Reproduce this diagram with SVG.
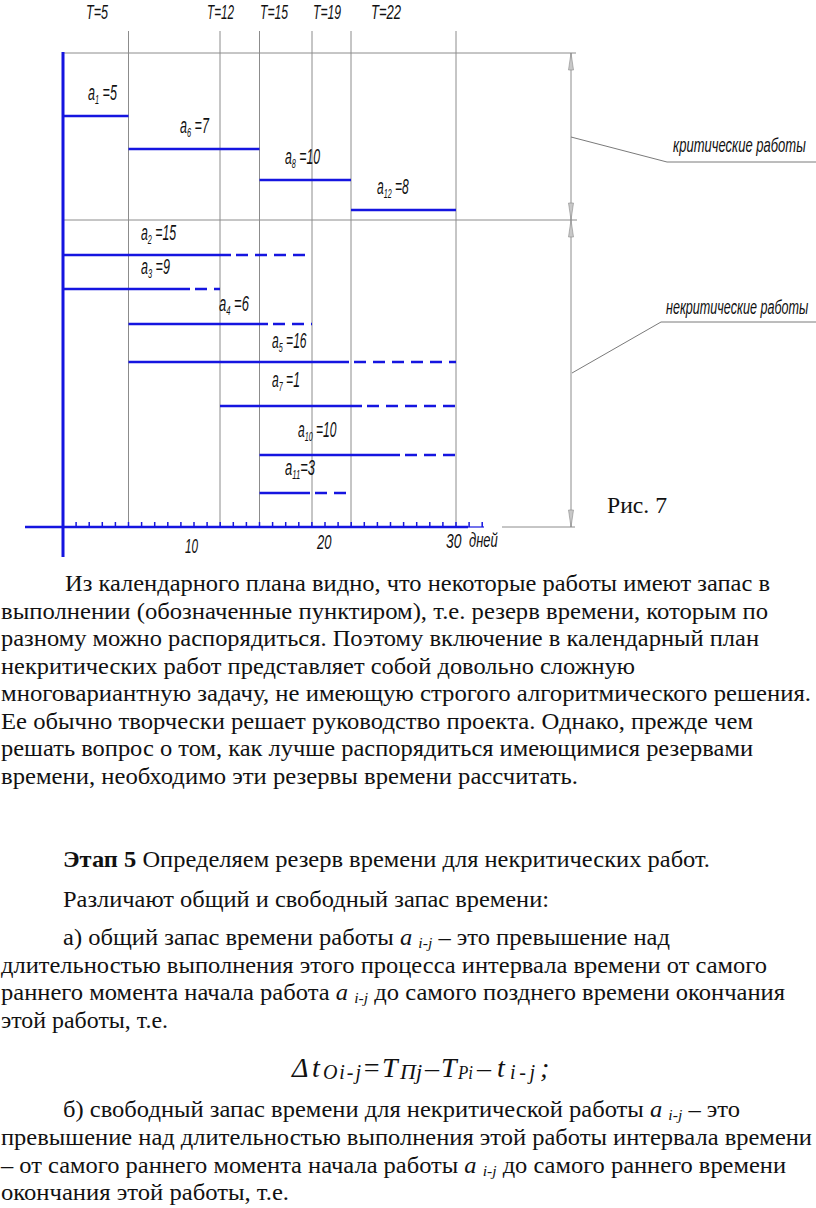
<svg xmlns="http://www.w3.org/2000/svg" width="816" height="1208" viewBox="0 0 816 1208">
<style>
.grid{stroke:#8c8c8c;stroke-width:1;fill:none}
.lead{stroke:#7a7a7a;stroke-width:1;fill:none}
.bar{stroke:#1515e0;stroke-width:2.6;fill:none}
.dash{stroke:#1515e0;stroke-width:2.6;stroke-dasharray:12 7;fill:none}
.tick{stroke:#1515e0;stroke-width:1.5}
.arr{fill:#c8c8c8;stroke:#8a8a8a;stroke-width:0.6}
.lbl{font-family:'Liberation Sans',Arimo,Arial,sans-serif;font-style:italic;font-size:22px;fill:#111}
.hdr{font-family:'Liberation Sans',Arimo,Arial,sans-serif;font-style:italic;font-size:21px;fill:#111}
.body{font-family:'Liberation Serif',Tinos,'Times New Roman',serif;font-size:23.5px;fill:#111}
.it{font-style:italic}
.fm{font-family:'Liberation Serif',Tinos,'Times New Roman',serif;font-style:italic;fill:#111}
</style>
<rect width="816" height="1208" fill="#fff"/>

<g id="grid">
  <line class="grid" x1="128.5" y1="31" x2="128.5" y2="527"/>
  <line class="grid" x1="220" y1="31" x2="220" y2="527"/>
  <line class="grid" x1="259.5" y1="31" x2="259.5" y2="527"/>
  <line class="grid" x1="312" y1="31" x2="312" y2="527"/>
  <line class="grid" x1="351" y1="31" x2="351" y2="527"/>
  <line class="grid" x1="456" y1="31" x2="456" y2="527"/>
  <line class="grid" x1="63" y1="53" x2="576" y2="53"/>
  <line class="grid" x1="63" y1="220" x2="577" y2="220"/>
  <line class="grid" x1="502" y1="527" x2="575" y2="527"/>
</g>

<g id="headers">
  <text class="hdr" transform="translate(86,19) scale(0.6,1)">T=5</text>
  <text class="hdr" transform="translate(207,19) scale(0.56,1)">T=12</text>
  <text class="hdr" transform="translate(260,19) scale(0.58,1)">T=15</text>
  <text class="hdr" transform="translate(313,19) scale(0.58,1)">T=19</text>
  <text class="hdr" transform="translate(371,19) scale(0.62,1)">T=22</text>
</g>

<g id="dimension">
  <line class="grid" x1="571" y1="53" x2="571" y2="527"/>
  <path class="arr" d="M571,53 L568.5,70 L573.5,70 Z"/>
  <path class="arr" d="M571,220 L568.5,203 L573.5,203 Z"/>
  <path class="arr" d="M571,220 L568.5,237 L573.5,237 Z"/>
  <path class="arr" d="M571,527 L568.5,510 L573.5,510 Z"/>
  <polyline class="lead" points="571,137 667,162 816,162"/>
  <polyline class="lead" points="572,373 661,322 816,322"/>
  <text class="hdr" transform="translate(673,152) scale(0.62,1)">критические работы</text>
  <text class="hdr" transform="translate(666,314) scale(0.6,1)">некритические работы</text>
</g>

<g id="axis">
  <line x1="63" y1="52" x2="63" y2="557" stroke="#1515e0" stroke-width="3"/>
  <line x1="25" y1="527" x2="468" y2="527" stroke="#1515e0" stroke-width="2.6"/>
  <line x1="468" y1="527" x2="484" y2="527" stroke="#1515e0" stroke-width="1.2"/>
  <g id="ticks">
    <line class="tick" x1="76.1" y1="522" x2="76.1" y2="527"/>
    <line class="tick" x1="89.2" y1="522" x2="89.2" y2="527"/>
    <line class="tick" x1="102.3" y1="522" x2="102.3" y2="527"/>
    <line class="tick" x1="115.4" y1="522" x2="115.4" y2="527"/>
    <line class="tick" x1="128.5" y1="522" x2="128.5" y2="527"/>
    <line class="tick" x1="141.6" y1="522" x2="141.6" y2="527"/>
    <line class="tick" x1="154.7" y1="522" x2="154.7" y2="527"/>
    <line class="tick" x1="167.8" y1="522" x2="167.8" y2="527"/>
    <line class="tick" x1="180.9" y1="522" x2="180.9" y2="527"/>
    <line class="tick" x1="194" y1="522" x2="194" y2="527"/>
    <line class="tick" x1="207.1" y1="522" x2="207.1" y2="527"/>
    <line class="tick" x1="220.2" y1="522" x2="220.2" y2="527"/>
    <line class="tick" x1="233.3" y1="522" x2="233.3" y2="527"/>
    <line class="tick" x1="246.4" y1="522" x2="246.4" y2="527"/>
    <line class="tick" x1="259.5" y1="522" x2="259.5" y2="527"/>
    <line class="tick" x1="272.6" y1="522" x2="272.6" y2="527"/>
    <line class="tick" x1="285.7" y1="522" x2="285.7" y2="527"/>
    <line class="tick" x1="298.8" y1="522" x2="298.8" y2="527"/>
    <line class="tick" x1="311.9" y1="522" x2="311.9" y2="527"/>
    <line class="tick" x1="325" y1="522" x2="325" y2="527"/>
    <line class="tick" x1="338.1" y1="522" x2="338.1" y2="527"/>
    <line class="tick" x1="351.2" y1="522" x2="351.2" y2="527"/>
    <line class="tick" x1="364.3" y1="522" x2="364.3" y2="527"/>
    <line class="tick" x1="377.4" y1="522" x2="377.4" y2="527"/>
    <line class="tick" x1="390.5" y1="522" x2="390.5" y2="527"/>
    <line class="tick" x1="403.6" y1="522" x2="403.6" y2="527"/>
    <line class="tick" x1="416.7" y1="522" x2="416.7" y2="527"/>
    <line class="tick" x1="429.8" y1="522" x2="429.8" y2="527"/>
    <line class="tick" x1="442.9" y1="522" x2="442.9" y2="527"/>
    <line class="tick" x1="456" y1="522" x2="456" y2="527"/>
    <line class="tick" x1="469.1" y1="522" x2="469.1" y2="527" stroke-width="1"/>
    <line class="tick" x1="482.2" y1="522" x2="482.2" y2="527" stroke-width="1"/>
  </g>
  <text class="hdr" transform="translate(185,553) scale(0.56,1)">10</text>
  <text class="hdr" transform="translate(317,549) scale(0.62,1)">20</text>
  <text class="hdr" transform="translate(446,548) scale(0.66,1)">30</text>
  <text class="hdr" transform="translate(469,547) scale(0.62,1)">дней</text>
</g>

<g id="critical">
  <g id="a1"><line class="bar" x1="63" y1="116" x2="128.5" y2="116"/>
    <text class="lbl" transform="translate(88,100) scale(0.57,1)">a<tspan font-size="13" dy="4">1</tspan><tspan dy="-4"> =5</tspan></text></g>
  <g id="a6"><line class="bar" x1="128.5" y1="149" x2="259.5" y2="149"/>
    <text class="lbl" transform="translate(180,133) scale(0.57,1)">a<tspan font-size="13" dy="4">6</tspan><tspan dy="-4"> =7</tspan></text></g>
  <g id="a8"><line class="bar" x1="259.5" y1="180" x2="351" y2="180"/>
    <text class="lbl" transform="translate(285,164) scale(0.56,1)">a<tspan font-size="13" dy="4">8</tspan><tspan dy="-4"> =10</tspan></text></g>
  <g id="a12"><line class="bar" x1="351" y1="210" x2="456" y2="210"/>
    <text class="lbl" transform="translate(377,194) scale(0.55,1)">a<tspan font-size="13" dy="4">12</tspan><tspan dy="-4"> =8</tspan></text></g>
</g>

<g id="noncritical">
  <g id="a2"><line class="bar" x1="63" y1="255" x2="231" y2="255"/><line class="dash" x1="236" y1="255" x2="312" y2="255"/>
    <text class="lbl" transform="translate(141,240) scale(0.56,1)">a<tspan font-size="13" dy="4">2</tspan><tspan dy="-4"> =15</tspan></text></g>
  <g id="a3"><line class="bar" x1="63" y1="289" x2="190" y2="289"/><line class="dash" x1="195" y1="289" x2="220" y2="289"/>
    <text class="lbl" transform="translate(141,274) scale(0.57,1)">a<tspan font-size="13" dy="4">3</tspan><tspan dy="-4"> =9</tspan></text></g>
  <g id="a4"><line class="bar" x1="128.5" y1="324" x2="268" y2="324"/><line class="dash" x1="273" y1="324" x2="312" y2="324"/>
    <text class="lbl" transform="translate(219,311) scale(0.59,1)">a<tspan font-size="13" dy="4">4</tspan><tspan dy="-4"> =6</tspan></text></g>
  <g id="a5"><line class="bar" x1="128.5" y1="362" x2="349" y2="362"/><line class="dash" x1="354" y1="362" x2="456" y2="362"/>
    <text class="lbl" transform="translate(272,348) scale(0.55,1)">a<tspan font-size="13" dy="4">5</tspan><tspan dy="-4"> =16</tspan></text></g>
  <g id="a7"><line class="bar" x1="220" y1="406" x2="362" y2="406"/><line class="dash" x1="367" y1="406" x2="456" y2="406"/>
    <text class="lbl" transform="translate(272,387) scale(0.55,1)">a<tspan font-size="13" dy="4">7</tspan><tspan dy="-4"> =1</tspan></text></g>
  <g id="a10"><line class="bar" x1="259.5" y1="455" x2="400" y2="455"/><line class="dash" x1="405" y1="455" x2="456" y2="455"/>
    <text class="lbl" transform="translate(298,437) scale(0.55,1)">a<tspan font-size="13" dy="4">10</tspan><tspan dy="-4"> =10</tspan></text></g>
  <g id="a11"><line class="bar" x1="259.5" y1="493" x2="310" y2="493"/><line class="dash" x1="315" y1="493" x2="351" y2="493"/>
    <text class="lbl" transform="translate(285,475) scale(0.59,1)">a<tspan font-size="13" dy="4">11</tspan><tspan dy="-4">=3</tspan></text></g>
</g>

<text id="caption" class="body" x="607" y="513" font-size="24" textLength="60" lengthAdjust="spacingAndGlyphs">Рис. 7</text>

<g id="paragraph1">
  <text class="body" x="65" y="591" textLength="705" lengthAdjust="spacingAndGlyphs">Из календарного плана видно, что некоторые работы имеют запас в</text>
  <text class="body" x="1" y="618.5" textLength="767" lengthAdjust="spacingAndGlyphs">выполнении (обозначенные пунктиром), т.е. резерв времени, которым по</text>
  <text class="body" x="1" y="646" textLength="758" lengthAdjust="spacingAndGlyphs">разному можно распорядиться. Поэтому включение в календарный план</text>
  <text class="body" x="1" y="673.5" textLength="634" lengthAdjust="spacingAndGlyphs">некритических работ представляет собой довольно сложную</text>
  <text class="body" x="1" y="701" textLength="810" lengthAdjust="spacingAndGlyphs">многовариантную задачу, не имеющую строгого алгоритмического решения.</text>
  <text class="body" x="1" y="728.5" textLength="752" lengthAdjust="spacingAndGlyphs">Ее обычно творчески решает руководство проекта. Однако, прежде чем</text>
  <text class="body" x="1" y="756" textLength="752" lengthAdjust="spacingAndGlyphs">решать вопрос о том, как лучше распорядиться имеющимися резервами</text>
  <text class="body" x="1" y="783.5" textLength="577" lengthAdjust="spacingAndGlyphs">времени, необходимо эти резервы времени рассчитать.</text>
</g>

<g id="paragraph2">
  <text class="body" x="63" y="867" textLength="647" lengthAdjust="spacingAndGlyphs"><tspan font-weight="bold">Этап 5</tspan> Определяем резерв времени для некритических работ.</text>
  <text class="body" x="63" y="906.5" textLength="486" lengthAdjust="spacingAndGlyphs">Различают общий и свободный запас времени:</text>
  <text class="body" x="63" y="945" textLength="607" lengthAdjust="spacingAndGlyphs">а) общий запас времени работы <tspan class="it">a</tspan> <tspan class="it" font-size="15" dy="3">i-j</tspan><tspan dy="-3"> – это превышение над</tspan></text>
  <text class="body" x="1" y="972.5" textLength="766" lengthAdjust="spacingAndGlyphs">длительностью выполнения этого процесса интервала времени от самого</text>
  <text class="body" x="1" y="1000" textLength="784" lengthAdjust="spacingAndGlyphs">раннего момента начала работа <tspan class="it">a</tspan> <tspan class="it" font-size="15" dy="3">i-j</tspan><tspan dy="-3"> до самого позднего времени окончания</tspan></text>
  <text class="body" x="1" y="1027.5" textLength="167" lengthAdjust="spacingAndGlyphs">этой работы, т.е.</text>
</g>

<g id="formula">
  <text class="fm" x="292" y="1077" font-size="28">Δ</text>
  <text class="fm" x="312" y="1077" font-size="28">t</text>
  <text class="fm" x="323" y="1079" font-size="20" textLength="38" lengthAdjust="spacing">Oi-j</text>
  <text class="fm" x="362" y="1077" font-size="28">=</text>
  <text class="fm" x="382" y="1077" font-size="28">T</text>
  <text class="fm" x="400" y="1079" font-size="20" textLength="22" lengthAdjust="spacingAndGlyphs">Пj</text>
  <text class="fm" x="425" y="1077" font-size="28">–</text>
  <text class="fm" x="441" y="1077" font-size="28">T</text>
  <text class="fm" x="458" y="1079" font-size="18" textLength="15" lengthAdjust="spacingAndGlyphs">Pi</text>
  <text class="fm" x="477" y="1077" font-size="28">–</text>
  <text class="fm" x="497" y="1077" font-size="28">t</text>
  <text class="fm" x="510" y="1079" font-size="20" textLength="25" lengthAdjust="spacing">i-j</text>
  <text class="fm" x="540" y="1077" font-size="28">;</text>
</g>

<g id="paragraph3">
  <text class="body" x="63" y="1117" textLength="677" lengthAdjust="spacingAndGlyphs">б) свободный запас времени для некритической работы <tspan class="it">a</tspan> <tspan class="it" font-size="15" dy="3">i-j</tspan><tspan dy="-3"> – это</tspan></text>
  <text class="body" x="1" y="1145" textLength="811" lengthAdjust="spacingAndGlyphs">превышение над длительностью выполнения этой работы интервала времени</text>
  <text class="body" x="1" y="1173" textLength="785" lengthAdjust="spacingAndGlyphs">– от самого раннего момента начала работы <tspan class="it">a</tspan> <tspan class="it" font-size="15" dy="3">i-j</tspan><tspan dy="-3"> до самого раннего времени</tspan></text>
  <text class="body" x="1" y="1200" textLength="288" lengthAdjust="spacingAndGlyphs">окончания этой работы, т.е.</text>
</g>
</svg>
